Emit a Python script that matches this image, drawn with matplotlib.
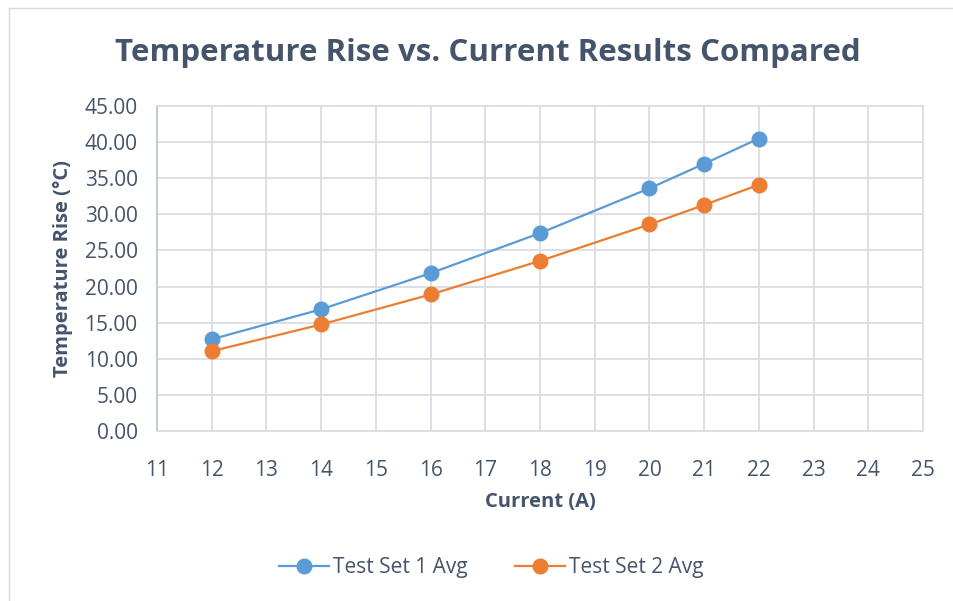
import matplotlib
matplotlib.use("Agg")
import matplotlib.pyplot as plt
from matplotlib.lines import Line2D

# ----------------------------
# Data
# ----------------------------
current = [12, 14, 16, 18, 20, 21, 22]
set1_avg = [12.7, 16.85, 21.85, 27.4, 33.6, 37.0, 40.5]
set2_avg = [11.05, 14.75, 18.9, 23.55, 28.6, 31.3, 34.1]

x_ticks = list(range(11, 26))
y_ticks = [0, 5, 10, 15, 20, 25, 30, 35, 40, 45]

TEXT = "#44546A"
GRID = "#D9DDE4"
BLUE = "#5B9BD5"
ORANGE = "#ED7D31"

plt.rcParams["font.family"] = ["Open Sans", "DejaVu Sans"]

fig = plt.figure(figsize=(9.54, 6.01), dpi=100)
ax = fig.add_axes([0.1646, 0.2829, 0.8029, 0.5407])

ax.plot(current, set1_avg, color=BLUE, lw=1.6, marker="o", ms=10.5,
        mfc=BLUE, mec=BLUE, label="Test Set 1 Avg", zorder=3)
ax.plot(current, set2_avg, color=ORANGE, lw=1.6, marker="o", ms=10.5,
        mfc=ORANGE, mec=ORANGE, label="Test Set 2 Avg", zorder=3)

ax.set_xlim(11, 25)
ax.set_ylim(0, 45)
ax.set_xticks(x_ticks)
ax.set_yticks(y_ticks)
ax.set_yticklabels([f"{v:.2f}" for v in y_ticks])
ax.grid(True, color=GRID, lw=1.3)
ax.set_axisbelow(True)
ax.tick_params(length=0, labelsize=15, colors=TEXT, pad=14)
ax.tick_params(axis="x", pad=21)
for s in ax.spines.values():
    s.set_color(GRID)
    s.set_linewidth(1.3)
ax.spines["left"].set_color("#BFC7D5")

ax.set_xlabel("Current (A)", fontsize=14.5, fontweight="bold", color=TEXT, labelpad=8)
ax.set_ylabel("Temperature Rise (°C)", fontsize=14.5, fontweight="bold", color=TEXT, labelpad=8)

fig.text(0.511, 0.912, "Temperature Rise vs. Current Results Compared",
         ha="center", va="center", fontsize=22.5, fontweight="bold", color=TEXT)

handles = [Line2D([], [], color=BLUE, lw=1.6, marker="o", ms=10.5),
           Line2D([], [], color=ORANGE, lw=1.6, marker="o", ms=10.5)]
fig.legend(handles, ["Test Set 1 Avg", "Test Set 2 Avg"], loc="center",
           bbox_to_anchor=(0.515, 0.055), ncol=2, frameon=False,
           fontsize=15, labelcolor=TEXT, handlelength=2.4, columnspacing=2.3,
           handletextpad=0.2)

# chart area border
fig.add_artist(Line2D([0.009, 0.009], [0, 0.987], color="#D9D9D9", lw=1,
                      transform=fig.transFigure))
fig.add_artist(Line2D([0.009, 1], [0.987, 0.987], color="#D9D9D9", lw=1,
                      transform=fig.transFigure))

fig.savefig("out.png", dpi=100)
